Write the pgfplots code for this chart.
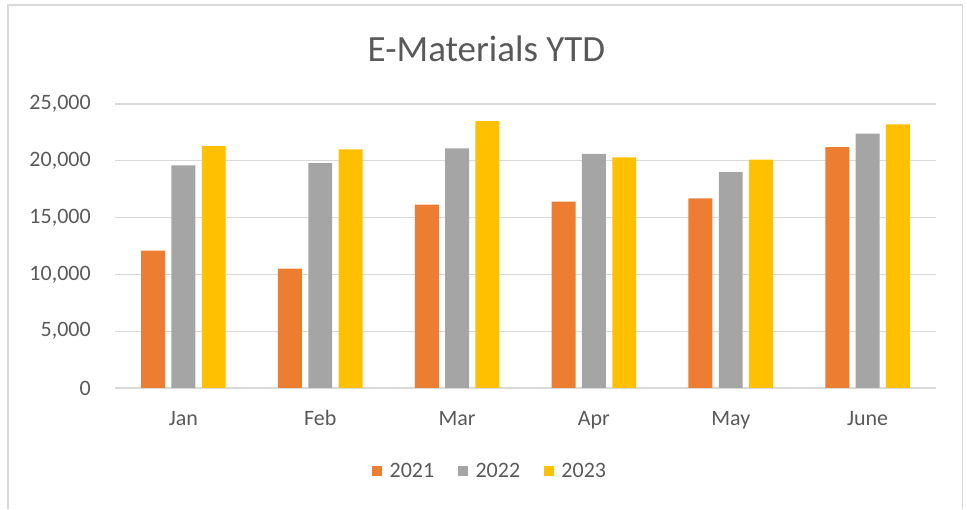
\documentclass[border=0pt]{standalone}
\usepackage{fontspec}
\setmainfont{Carlito}
\usepackage{pgfplots}
\pgfplotsset{compat=1.18}

\definecolor{c2021}{HTML}{ED7D31}
\definecolor{c2022}{HTML}{A5A5A5}
\definecolor{c2023}{HTML}{FFC000}
\definecolor{txt}{HTML}{595959}
\definecolor{gridc}{HTML}{D9D9D9}

\begin{document}
\begin{tikzpicture}
% page size (967x509 px at 0.75pt/px)
\path (0,0) rectangle (725.25pt,381.75pt);
\draw[gridc, line width=0.8pt] (6pt,0) -- (6pt,378pt) -- (721.9pt,378pt) -- (721.9pt,0);
\node[anchor=base, text=txt, font=\fontsize{27.75}{33}\selectfont, inner sep=0pt]
  at (364.9pt,335.25pt) {E-Materials YTD};
\begin{axis}[
    at={(86.25pt,90.75pt)}, anchor=south west,
    scale only axis,
    width=615.75pt, height=213pt,
    ybar,
    bar width=0.175,
    xmin=-0.5, xmax=5.5,
    ymin=0, ymax=25000,
    xtick={0,1,2,3,4,5},
    xticklabels={Jan,Feb,Mar,Apr,May,June},
    ytick={0,5000,10000,15000,20000,25000},
    scaled y ticks=false,
    /pgf/number format/assume math mode=true,
    /pgf/number format/.cd, 1000 sep={,}, /pgfplots/.cd,
    ymajorgrids=true,
    grid style={gridc, line width=1pt},
    axis line style={draw=none},
    major tick length=0pt,
    tick label style={font=\fontsize{16.5}{19.8}\selectfont, text=txt},
    yticklabel style={anchor=east, inner sep=0pt, xshift=-18pt},
    xticklabel style={anchor=base, inner sep=0pt, yshift=-28.3pt},
    legend image code/.code={\fill[#1] (0pt,-3.75pt) rectangle (7.5pt,3.75pt);},
    legend columns=-1,
    legend style={at={(0.4574,-0.292)}, anchor=center, draw=none, fill=none,
        font=\fontsize{16.5}{19.8}\selectfont, text=txt, inner sep=0pt,
        /tikz/every odd column/.append style={column sep=3.5pt},
        /tikz/every even column/.append style={column sep=16pt}},
]
\addplot[fill=c2021, draw=none, bar shift=-0.2215] coordinates
  {(0,12100) (1,10500) (2,16150) (3,16400) (4,16700) (5,21200)};
\addplot[fill=c2022, draw=none, bar shift=0] coordinates
  {(0,19600) (1,19800) (2,21100) (3,20600) (4,19000) (5,22400)};
\addplot[fill=c2023, draw=none, bar shift=0.2215] coordinates
  {(0,21300) (1,21000) (2,23500) (3,20300) (4,20100) (5,23200)};
\legend{2021,2022,2023}
\end{axis}
\end{tikzpicture}
\end{document}
